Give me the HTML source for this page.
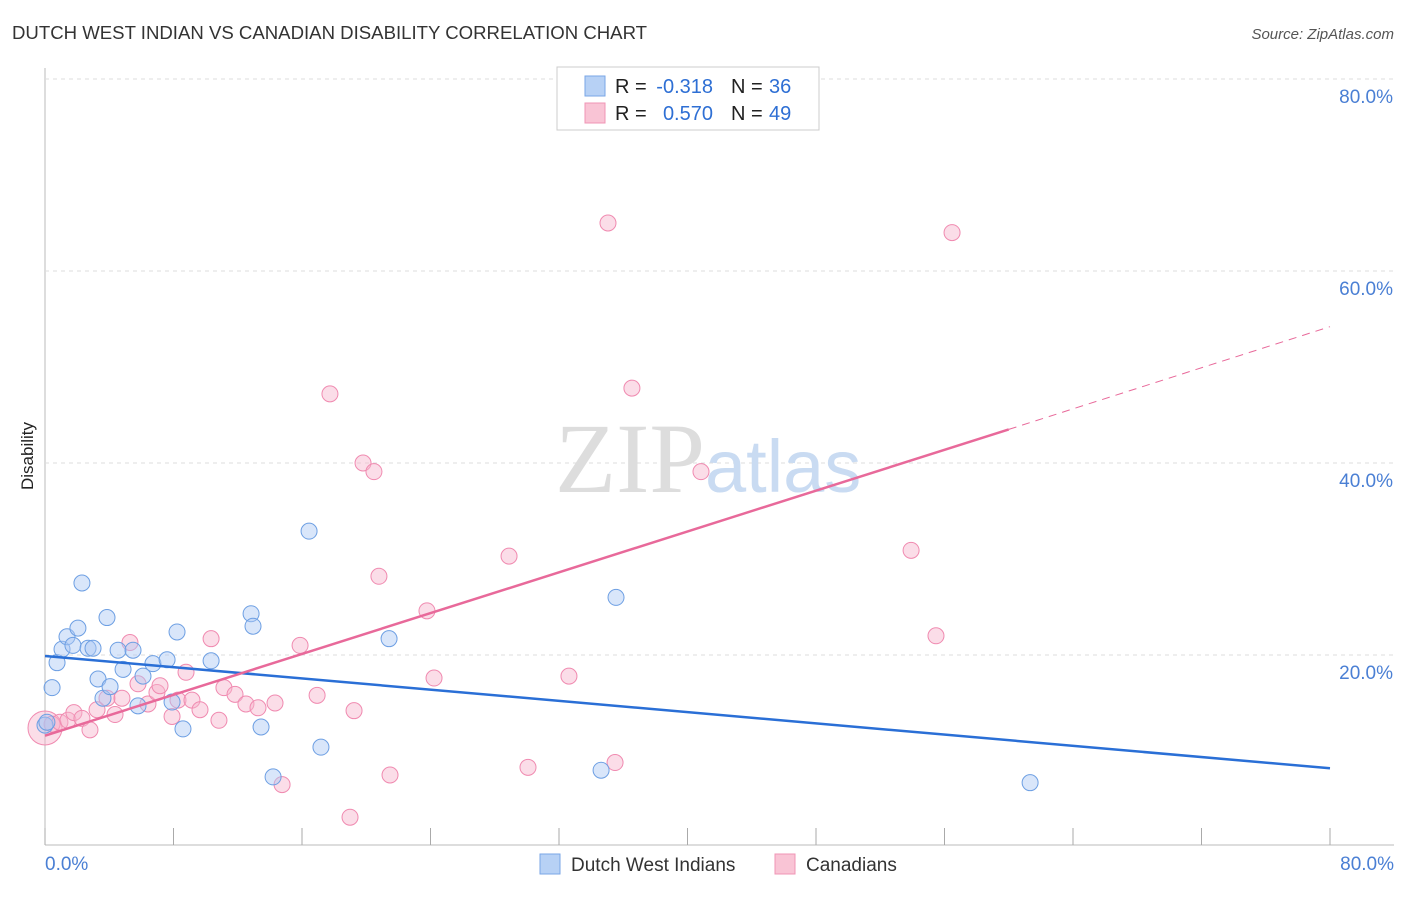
<!DOCTYPE html>
<html><head><meta charset="utf-8"><style>
body{margin:0;background:#fff;font-family:"Liberation Sans",sans-serif}
</style></head><body>
<svg id="c" width="1406" height="892" xmlns="http://www.w3.org/2000/svg">
<text x="12" y="39" font-size="18.6" fill="#333">DUTCH WEST INDIAN VS CANADIAN DISABILITY CORRELATION CHART</text>
<text x="1394" y="39" font-size="15" fill="#555" font-style="italic" text-anchor="end">Source: ZipAtlas.com</text>
<text x="33" y="456" font-size="17" fill="#222" text-anchor="middle" transform="rotate(-90 33 456)">Disability</text>
<g id="grid"></g>
<text x="555" y="492" font-size="100" fill="#ddd" font-family="Liberation Serif,serif">ZIP<tspan fill="#c9dbf2" font-family="Liberation Sans,sans-serif" font-size="74">atlas</tspan></text>
<g id="pts"></g><g id="lines"></g>
<g>
<rect x="557" y="67" width="262" height="63" fill="#fff" stroke="#ccc"/>
<rect x="585" y="76" width="20" height="20" fill="#b7d1f5" stroke="#7aa6e6"/>
<rect x="585" y="103" width="20" height="20" fill="#f9c4d5" stroke="#f095b5"/>
<text x="615" y="93" font-size="20" fill="#222">R =</text>
<text x="713" y="93" font-size="20" fill="#2e6fd4" text-anchor="end">-0.318</text>
<text x="731" y="93" font-size="20" fill="#222">N =</text>
<text x="769" y="93" font-size="20" fill="#2e6fd4">36</text>
<text x="615" y="120" font-size="20" fill="#222">R =</text>
<text x="713" y="120" font-size="20" fill="#2e6fd4" text-anchor="end">0.570</text>
<text x="731" y="120" font-size="20" fill="#222">N =</text>
<text x="769" y="120" font-size="20" fill="#2e6fd4">49</text>
</g>
<g>
<rect x="540" y="854" width="20" height="20" fill="#b7d1f5" stroke="#7aa6e6"/>
<text x="571" y="871" font-size="19" fill="#333">Dutch West Indians</text>
<rect x="775" y="854" width="20" height="20" fill="#f9c4d5" stroke="#f095b5"/>
<text x="806" y="871" font-size="19" fill="#333">Canadians</text>
</g>
</svg>
<script>
const xTicks=[0,8,16,24,32,40,48,56,64,72,80];
const yTicks=[20,40,60,80];
const blueX=[0,0.12,0.44,0.75,1.06,1.37,1.74,2.05,2.30,2.68,2.99,3.30,3.61,3.86,4.05,4.55,4.86,5.48,5.79,6.10,6.72,7.60,7.91,8.22,8.59,10.34,12.83,12.95,13.45,14.20,16.44,17.18,21.42,34.62,35.55,61.33];
const blueY=[12.7,13.0,16.6,19.2,20.6,21.9,21.0,22.8,27.5,20.7,20.7,17.5,15.5,23.9,16.7,20.5,18.5,20.5,14.7,17.8,19.1,19.5,15.1,22.4,12.3,19.4,24.3,23.0,12.5,7.3,32.9,10.4,21.7,8.0,26.0,6.7];
const pinkX=[0,0.44,0.93,1.43,1.80,2.30,2.80,3.24,3.86,4.36,4.79,5.29,5.79,6.41,6.97,7.16,7.91,8.28,8.78,9.15,9.65,10.34,10.83,11.14,11.83,12.51,13.26,14.32,14.76,15.88,16.94,17.74,18.99,19.24,19.80,20.48,20.79,21.48,23.78,24.22,28.89,30.07,32.62,35.05,35.49,36.54,40.84,53.92,55.47,56.47];
const pinkY=[12.4,12.8,13.0,13.2,14.0,13.4,12.2,14.3,15.5,13.8,15.5,21.3,17.0,14.9,16.1,16.8,13.6,15.3,18.2,15.3,14.3,21.7,13.2,16.6,15.9,14.9,14.5,15.0,6.5,21.0,15.8,47.2,3.1,14.2,40.0,39.1,28.2,7.5,24.6,17.6,30.3,8.3,17.8,65.0,8.8,47.8,39.1,30.9,22.0,64.0];
const blueLine=[[0,19.9],[80,8.2]];
const pinkLine=[[0,11.6],[60,43.5]];
const pinkDash=[[60,43.5],[80,54.2]];
const X=v=>45+v/80*1285, Y=v=>847-v*9.6;
const NS="http://www.w3.org/2000/svg";
function mk(t,a,p){const e=document.createElementNS(NS,t);for(const k in a)e.setAttribute(k,a[k]);p.appendChild(e);return e;}
const grid=document.getElementById('grid');
mk('line',{x1:45,y1:68,x2:45,y2:845,stroke:'#bbb'},grid);
mk('line',{x1:45,y1:845,x2:1394,y2:845,stroke:'#bbb'},grid);
yTicks.forEach(t=>{const l=mk('line',{x1:45,y1:Y(t),x2:1394,y2:Y(t),stroke:'#ddd','stroke-dasharray':'4 4'},grid);


const tx=mk('text',{x:1393,y:Y(t)+24,'font-size':19,fill:'#4a7fd4','text-anchor':'end'},grid);tx.textContent=t.toFixed(1)+'%';

});
xTicks.forEach(t=>{const l=mk('line',{x1:X(t),y1:828,x2:X(t),y2:845,stroke:'#aaa'},grid);

});
[[0,'start',45],[80,'end',1394]].forEach(([t,a,x])=>{const tx=mk('text',{x:x,y:870,'font-size':19,fill:'#4a7fd4','text-anchor':a},grid);tx.textContent=t.toFixed(1)+'%';

});
const pts=document.getElementById('pts');
pinkX.forEach((v,i)=>{const c=mk('circle',{cx:X(v),cy:Y(pinkY[i]),r:i==0?17:8,fill:'rgba(246,180,204,0.45)',stroke:'#f08ab0','stroke-width':1},pts);

});
blueX.forEach((v,i)=>{const c=mk('circle',{cx:X(v),cy:Y(blueY[i]),r:8,fill:'rgba(170,200,245,0.45)',stroke:'#6d9fe3','stroke-width':1},pts);

});
const ln=document.getElementById('lines');
function L(d,col,name,dash){const l=mk('line',{x1:X(d[0][0]),y1:Y(d[0][1]),x2:X(d[1][0]),y2:Y(d[1][1]),stroke:col,'stroke-width':dash?1:2.5},ln);if(dash)l.setAttribute('stroke-dasharray','8 6');

}
L(blueLine,'#2a6fd6','dutch-west-indians-trendline');
L(pinkLine,'#e8699a','canadians-trendline');
L(pinkDash,'#e8699a','canadians-trendline-extension',true);
</script>
</body></html>
